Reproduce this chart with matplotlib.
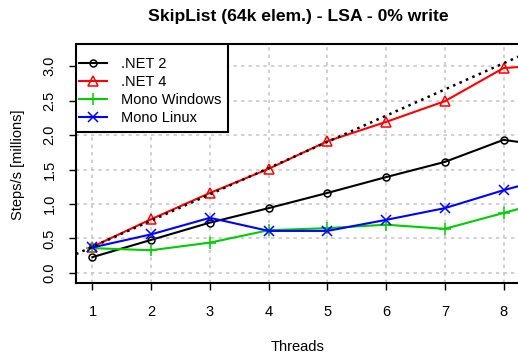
import numpy as np
import matplotlib
matplotlib.use("Agg")
import matplotlib.pyplot as plt
from matplotlib.patches import Rectangle

plt.rcParams['font.family'] = ['Liberation Sans', 'DejaVu Sans']

# throughput (millions of steps/s) per thread count
threads = [1, 2, 3, 4, 5, 6, 7, 8, 9]
net2 = [0.23, 0.48, 0.73, 0.94, 1.16, 1.39, 1.61, 1.93, 1.81]
net4 = [0.38, 0.78, 1.16, 1.51, 1.91, 2.19, 2.49, 2.97, 3.03]
mono_win = [0.36, 0.33, 0.44, 0.62, 0.65, 0.70, 0.64, 0.87, 1.10]
mono_linux = [0.37, 0.56, 0.80, 0.61, 0.61, 0.77, 0.94, 1.20, 1.43]
ideal_slope = 0.38

xticks = [1, 2, 3, 4, 5, 6, 7, 8]
yticks = [0.0, 0.5, 1.0, 1.5, 2.0, 2.5, 3.0]

W, H = 518, 360
fs = 10.5
fig = plt.figure(figsize=(W / 100, H / 100), dpi=100)
ax_w, ax_h = 520 - 76, 283 - 44
ax = fig.add_axes([76 / W, (H - 283) / H, ax_w / W, ax_h / H])

ax.set_xlim(0.72, 8.28)
ax.set_ylim(-0.145, 3.319)

for x in xticks:
    ax.axvline(x, color='#c8c8c8', lw=1.2, ls=(0, (2, 2.5)), zorder=0)
for y in yticks:
    ax.axhline(y, color='#c8c8c8', lw=1.2, ls=(0, (2, 2.5)), zorder=0)

lw = 1.5
ax.plot(threads, net2, color='black', lw=lw, marker='o', ms=5, mfc='none', mew=1.1, label='.NET 2')
ax.plot(threads, net4, color='#ff0000', lw=lw, marker='^', ms=7, mfc='none', mew=1.1, label='.NET 4')
ax.plot(threads, mono_win, color='#00cd00', lw=lw, marker='+', ms=8, mew=1.1, label='Mono Windows')
ax.plot(threads, mono_linux, color='#0000ff', lw=lw, marker='x', ms=6.5, mew=1.1, label='Mono Linux')

# linear scaling reference
ax.axline((0, 0), slope=ideal_slope, color='black', lw=1.8, ls=(0, (1, 1.8)))

ax.set_xticks(xticks)
ax.set_xticklabels([str(x) for x in xticks])
ax.set_yticks(yticks)
ax.set_yticklabels(['%.1f' % y for y in yticks], rotation=90, va='center')
ax.tick_params(axis='both', length=5, width=1, labelsize=fs, direction='out')
ax.tick_params(axis='x', pad=11)
ax.tick_params(axis='y', pad=9)

for s in ['left', 'bottom', 'top']:
    ax.spines[s].set_linewidth(1.5)
ax.spines['right'].set_visible(False)

# legend box drawn separately so the padding can differ per side
ax.add_patch(Rectangle((0, 1 - 88 / ax_h), 152 / ax_w, 88 / ax_h, transform=ax.transAxes,
                       facecolor='white', edgecolor='black', lw=1.5, zorder=4))
leg = ax.legend(loc='upper left', bbox_to_anchor=(3 / ax_w, 1 - 13 / ax_h), borderaxespad=0,
                frameon=False, fontsize=fs, handlelength=1.9, handletextpad=0.95,
                labelspacing=0.27, borderpad=0)
leg.set_zorder(5)

fig.text(298 / W, 1 - 17 / H, 'SkipList (64k elem.) - LSA - 0% write', ha='center', va='center',
         fontsize=12.6, fontweight='bold')
fig.text(298 / W, 1 - 347 / H, 'Threads', ha='center', va='center', fontsize=fs)
fig.text(18 / W, 1 - 165 / H, 'Steps/s [millions]', ha='center', va='center', rotation=90, fontsize=fs)

fig.savefig('out.png', dpi=100)
